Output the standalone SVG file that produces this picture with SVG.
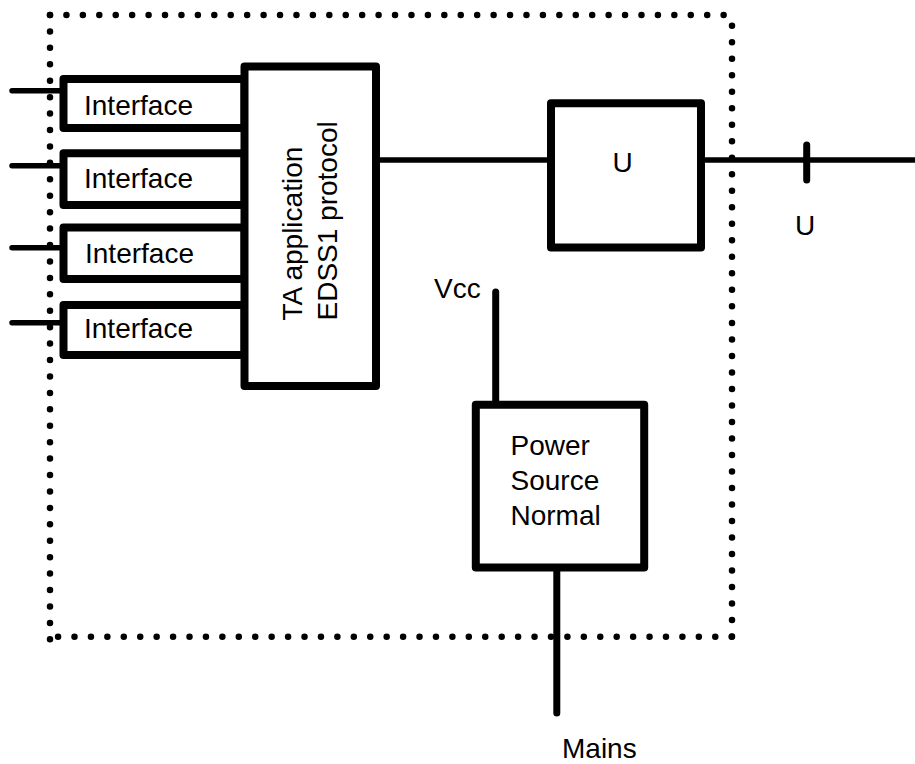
<svg xmlns="http://www.w3.org/2000/svg" width="915" height="764" viewBox="0 0 915 764">
<style>
.box{fill:#fff;stroke:#000;stroke-width:8;stroke-linejoin:round}
.wire{fill:none;stroke:#000;stroke-width:5.5;stroke-linecap:round}
.thick{fill:none;stroke:#000;stroke-width:7;stroke-linecap:round}
.dots{fill:none;stroke:#000;stroke-width:6.5;stroke-linecap:round;stroke-dasharray:0 16.43}
text{font-family:"Liberation Sans",Arial,sans-serif;font-size:28px;fill:#000}
</style>
<rect width="915" height="764" fill="#fff"/>
<g id="boundary">
<path class="dots" d="M50,15 H726"/>
<path class="dots" style="stroke-dasharray:0 16.51" d="M732,25.7 V637"/>
<path class="dots" d="M731.7,636.7 H52"/>
<path class="dots" d="M50,15 V640"/>
</g>
<g id="connectors">
<path class="wire" d="M12,90.7 H63.5"/>
<path class="wire" d="M12,165.7 H63.5"/>
<path class="wire" d="M12,247.7 H63.5"/>
<path class="wire" d="M12,322.7 H63.5"/>
<path class="wire" d="M376,160 H551"/>
<path class="wire" style="stroke-linecap:butt" d="M701,160 H915"/>
<path class="thick" d="M806.7,145 V180"/>
<path class="thick" d="M495.7,292 V405"/>
<path class="thick" d="M556.8,567 V713"/>
</g>
<g id="if1"><rect class="box" x="63.5" y="79" width="181" height="49"/><text x="84" y="115">Interface</text></g>
<g id="if2"><rect class="box" x="63.5" y="153.3" width="181" height="51.7"/><text x="84" y="188">Interface</text></g>
<g id="if3"><rect class="box" x="63.5" y="227.5" width="181" height="51.5"/><text x="85" y="263">Interface</text></g>
<g id="if4"><rect class="box" x="63.5" y="305" width="181" height="50"/><text x="84" y="338">Interface</text></g>
<g id="ta">
<rect class="box" x="244.5" y="66.5" width="131.5" height="319.5"/>
<text transform="translate(301.7,320.5) rotate(-90)">TA application</text>
<text transform="translate(337.3,320.5) rotate(-90)">EDSS1 protocol</text>
</g>
<g id="u-box">
<rect class="box" x="551" y="103.3" width="150" height="144.2"/>
<text x="622.5" y="171.7" text-anchor="middle">U</text>
</g>
<g id="u-label"><text x="805" y="235" text-anchor="middle">U</text></g>
<g id="vcc-label"><text x="434" y="298">Vcc</text></g>
<g id="power">
<rect class="box" x="475.8" y="404.8" width="168.4" height="162.7"/>
<text x="510.5" y="455">Power</text>
<text x="510.5" y="490">Source</text>
<text x="510.5" y="525">Normal</text>
</g>
<g id="mains-label"><text x="562" y="758">Mains</text></g>
</svg>
